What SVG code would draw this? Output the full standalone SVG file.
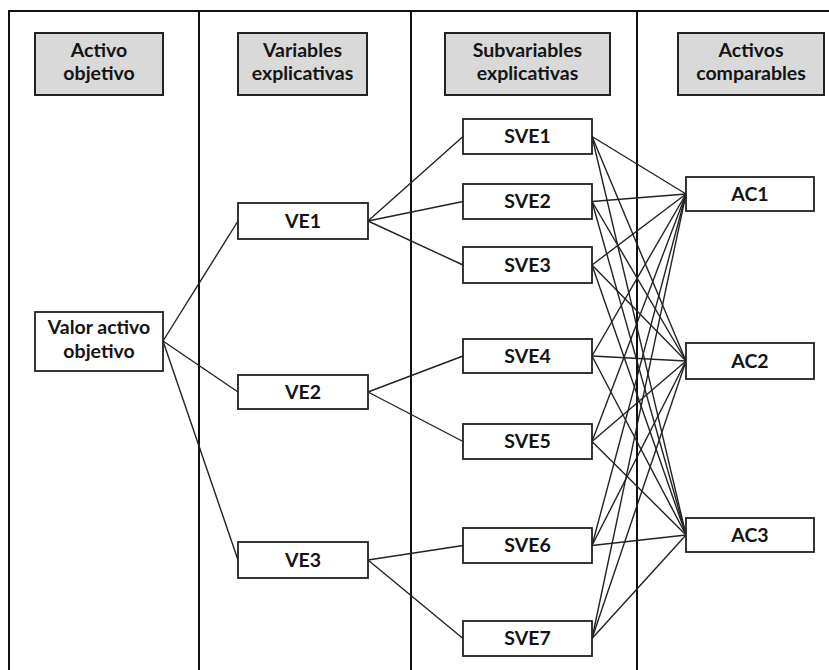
<svg xmlns="http://www.w3.org/2000/svg" width="829" height="670" viewBox="0 0 829 670">
<style>
.frame{stroke:#111;stroke-width:2;fill:none}
.hdr{fill:#d9d9d9;stroke:#222;stroke-width:2}
.box{fill:#fff;stroke:#222;stroke-width:1.8}
.t{font-family:Lato,"Open Sans",sans-serif;font-weight:bold;font-size:19.5px;fill:#141414;text-anchor:middle}
.c line{stroke:#222;stroke-width:1.4}
</style>
<rect width="829" height="670" fill="#fff"/>
<g id="frame" class="frame">
<line x1="9" y1="11" x2="829" y2="11"/>
<line x1="9" y1="10" x2="9" y2="670"/>
<line x1="199" y1="11" x2="199" y2="670"/>
<line x1="411" y1="11" x2="411" y2="670"/>
<line x1="637" y1="11" x2="637" y2="670"/>
</g>
<g id="h1"><rect class="hdr" x="35" y="33" width="128" height="62"/><text class="t" x="99" y="57">Activo</text><text class="t" x="99" y="80">objetivo</text></g>
<g id="h2"><rect class="hdr" x="238" y="33" width="129" height="62"/><text class="t" x="302.5" y="57">Variables</text><text class="t" x="302.5" y="80">explicativas</text></g>
<g id="h3"><rect class="hdr" x="445" y="33" width="165" height="62"/><text class="t" x="527.5" y="57">Subvariables</text><text class="t" x="527.5" y="80">explicativas</text></g>
<g id="h4"><rect class="hdr" x="678" y="33" width="146" height="62"/><text class="t" x="751" y="57">Activos</text><text class="t" x="751" y="80">comparables</text></g>
<g class="c" id="connectors">
<line x1="163" y1="341" x2="238" y2="221"/>
<line x1="163" y1="341" x2="238" y2="392"/>
<line x1="163" y1="341" x2="238" y2="560"/>
<line x1="368" y1="221" x2="463" y2="136.5"/>
<line x1="368" y1="221" x2="463" y2="201.5"/>
<line x1="368" y1="221" x2="463" y2="265"/>
<line x1="368" y1="392" x2="463" y2="356"/>
<line x1="368" y1="392" x2="463" y2="441.5"/>
<line x1="368" y1="560" x2="463" y2="545.5"/>
<line x1="368" y1="560" x2="463" y2="638.5"/>
<line x1="592" y1="136.5" x2="686" y2="194"/><line x1="592" y1="136.5" x2="686" y2="361"/><line x1="592" y1="136.5" x2="686" y2="535"/>
<line x1="592" y1="201.5" x2="686" y2="194"/><line x1="592" y1="201.5" x2="686" y2="361"/><line x1="592" y1="201.5" x2="686" y2="535"/>
<line x1="592" y1="265" x2="686" y2="194"/><line x1="592" y1="265" x2="686" y2="361"/><line x1="592" y1="265" x2="686" y2="535"/>
<line x1="592" y1="356" x2="686" y2="194"/><line x1="592" y1="356" x2="686" y2="361"/><line x1="592" y1="356" x2="686" y2="535"/>
<line x1="592" y1="441.5" x2="686" y2="194"/><line x1="592" y1="441.5" x2="686" y2="361"/><line x1="592" y1="441.5" x2="686" y2="535"/>
<line x1="592" y1="545.5" x2="686" y2="194"/><line x1="592" y1="545.5" x2="686" y2="361"/><line x1="592" y1="545.5" x2="686" y2="535"/>
<line x1="592" y1="638.5" x2="686" y2="194"/><line x1="592" y1="638.5" x2="686" y2="361"/><line x1="592" y1="638.5" x2="686" y2="535"/>
</g>
<g id="valor"><rect class="box" x="35" y="312" width="128" height="59"/><text class="t" x="99" y="334">Valor activo</text><text class="t" x="99" y="358">objetivo</text></g>
<g id="ve1"><rect class="box" x="238" y="203" width="130" height="36"/><text class="t" x="303" y="228">VE1</text></g>
<g id="ve2"><rect class="box" x="238" y="375" width="130" height="34"/><text class="t" x="303" y="399">VE2</text></g>
<g id="ve3"><rect class="box" x="238" y="542" width="130" height="36"/><text class="t" x="303" y="567">VE3</text></g>
<g id="sve1"><rect class="box" x="463" y="119" width="129" height="35"/><text class="t" x="527.5" y="143">SVE1</text></g>
<g id="sve2"><rect class="box" x="463" y="184" width="129" height="35"/><text class="t" x="527.5" y="208">SVE2</text></g>
<g id="sve3"><rect class="box" x="463" y="247" width="129" height="36"/><text class="t" x="527.5" y="272">SVE3</text></g>
<g id="sve4"><rect class="box" x="463" y="339" width="129" height="34"/><text class="t" x="527.5" y="363">SVE4</text></g>
<g id="sve5"><rect class="box" x="463" y="424" width="129" height="35"/><text class="t" x="527.5" y="448">SVE5</text></g>
<g id="sve6"><rect class="box" x="463" y="528" width="129" height="35"/><text class="t" x="527.5" y="552">SVE6</text></g>
<g id="sve7"><rect class="box" x="463" y="621" width="129" height="35"/><text class="t" x="527.5" y="645">SVE7</text></g>
<g id="ac1"><rect class="box" x="686" y="177" width="128" height="34"/><text class="t" x="750" y="201">AC1</text></g>
<g id="ac2"><rect class="box" x="686" y="343" width="128" height="36"/><text class="t" x="750" y="368">AC2</text></g>
<g id="ac3"><rect class="box" x="686" y="518" width="128" height="34"/><text class="t" x="750" y="542">AC3</text></g>
</svg>
